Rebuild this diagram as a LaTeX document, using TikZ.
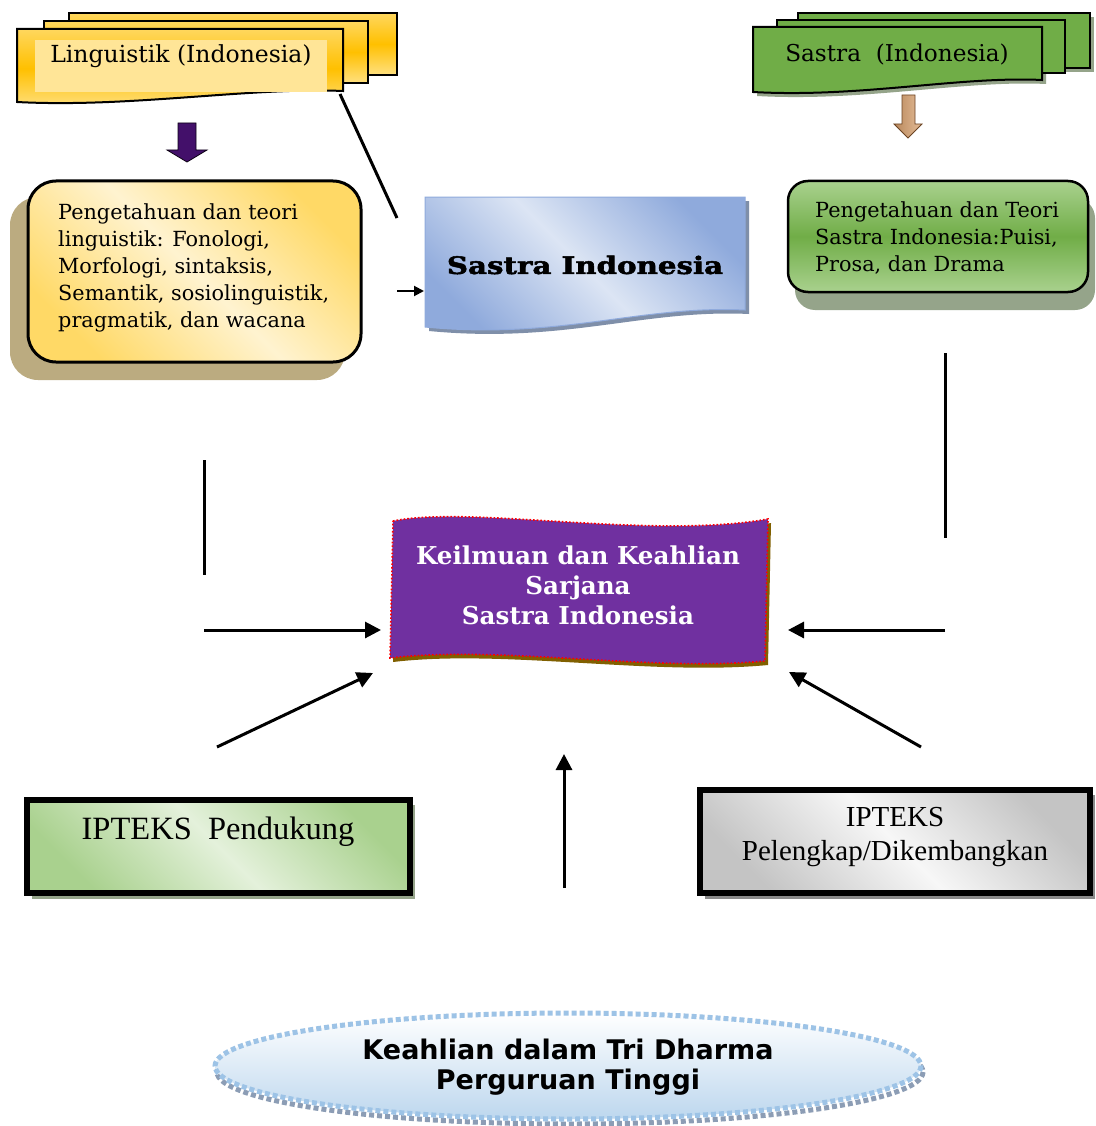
\documentclass[tikz,border=0pt]{standalone}
\usepackage{fontspec}
\usepackage{graphicx}
\setmainfont{DejaVu Serif}
\newfontfamily\garafont{Liberation Serif}
\newfontfamily\heavyfont{DejaVu Serif}[BoldFeatures={FakeBold=2}]
\newfontfamily\decofont{DejaVu Sans}
\usetikzlibrary{arrows.meta}

\definecolor{goldA}{HTML}{FFD75E}
\definecolor{goldB}{HTML}{FFC000}
\definecolor{goldC}{HTML}{FFE080}
\definecolor{goldPale}{HTML}{FFE597}
\definecolor{creamC}{HTML}{FFF3D0}
\definecolor{creamY}{HTML}{FFD966}
\definecolor{khaki}{HTML}{BBAB80}
\definecolor{leaf}{HTML}{70AD47}
\definecolor{leafL}{HTML}{A9D18E}
\definecolor{leafPale}{HTML}{E4F1DB}
\definecolor{leafShadow}{HTML}{95A48A}
\definecolor{skyL}{HTML}{DCE5F4}
\definecolor{skyD}{HTML}{8FAADC}
\definecolor{skyShadow}{HTML}{7F8FA9}
\definecolor{plum}{HTML}{7030A0}
\definecolor{plumDark}{HTML}{43106A}
\definecolor{olive}{HTML}{806000}
\definecolor{tan}{HTML}{D9A06C}
\definecolor{tanD}{HTML}{6B4424}
\definecolor{greyL}{HTML}{F7F7F7}
\definecolor{greyD}{HTML}{C4C4C4}
\definecolor{greyShadow}{HTML}{8A8A8A}
\definecolor{iceL}{HTML}{FFFFFF}
\definecolor{iceD}{HTML}{BDD7EE}
\definecolor{iceLine}{HTML}{9DC3E6}
\definecolor{iceShadow}{HTML}{8C9DB5}

\tikzset{
  conn/.style={line width=3pt, black},
  arr/.style={conn, -{Triangle[length=16pt,width=16pt]}},
  smallarr/.style={line width=2pt, black, -{Triangle[length=10pt,width=10pt]}},
  outline/.style={draw=black, line width=2pt},
  thickframe/.style={draw=black, line width=6pt},
  headtxt/.style={inner sep=0pt, font=\fontsize{23.5}{27}\selectfont},
  boxtxt/.style={inner sep=0pt, font=\fontsize{20.8}{27}\selectfont},
  goldshade/.style={top color=goldA, bottom color=goldC, middle color=goldB},
}

\begin{document}
\begin{tikzpicture}[x=1pt,y=-1pt]
\fill[white] (0,0) rectangle (1095,1126);
\useasboundingbox (0,0) rectangle (1095,1126);

% ---------- Linguistik stack ----------
\shade[goldshade, outline] (69,13) rectangle (397,75);
\shade[goldshade, outline] (44,21) rectangle (368,83);
\shade[goldshade, outline]
  (17,29) -- (343,29) -- (343,91)
  .. controls (250,87) and (130,108) .. (17,102) -- cycle;
\fill[goldPale] (35,40) rectangle (327,92);
\node[headtxt] (ling) at (181,56) {Linguistik (Indonesia)};

% down arrow under Linguistik
\filldraw[fill=plumDark, draw=black!80!plumDark, line width=0.8pt]
  (178,123) -- (196,123) -- (196,150) -- (207,150) -- (187,162)
  -- (167,150) -- (178,150) -- cycle;

% ---------- Sastra stack ----------
\begin{scope}[shift={(4,4)}]
  \fill[leafShadow] (798,13) rectangle (1090,68);
  \fill[leafShadow] (753,27) -- (1042,27) -- (1042,80)
    .. controls (960,76) and (860,98) .. (753,92) -- cycle;
\end{scope}
\filldraw[fill=leaf, outline] (798,13) rectangle (1090,68);
\filldraw[fill=leaf, outline] (777,20) rectangle (1065,73);
\filldraw[fill=leaf, outline] (753,27) -- (1042,27) -- (1042,80)
  .. controls (960,76) and (860,98) .. (753,92) -- cycle;
\node[headtxt, font=\fontsize{23.2}{27}\selectfont] (sastra) at (897,54)
  {Sastra\ \ (Indonesia)};

% down arrow under Sastra
\shade[left color=tan!85!black, right color=tan!70!white, draw=tanD, line width=0.8pt]
  (902,95) -- (915,95) -- (915,124) -- (922,124) -- (908,138)
  -- (894,124) -- (902,124) -- cycle;

% ---------- left knowledge box ----------
\fill[khaki, rounded corners=28] (10,197) rectangle (345,380);
\shade[top color=creamY, bottom color=creamY, middle color=creamC,
       shading angle=-45, rounded corners=28, draw=black, line width=3pt]
  (28,181) rectangle (361,362);
\node[boxtxt, anchor=west, align=left] (lingbox) at (58,268)
  {Pengetahuan dan teori\\linguistik: Fonologi,\\Morfologi, sintaksis,\\Semantik, sosiolinguistik,\\pragmatik, dan wacana};

% ---------- right knowledge box ----------
\fill[leafShadow, rounded corners=20] (795,198) rectangle (1095,310);
\shade[top color=leafL, bottom color=leafL, middle color=leaf,
       rounded corners=20, draw=black, line width=2.5pt]
  (788,181) rectangle (1088,292);
\node[boxtxt, anchor=west, align=left] (sastrabox) at (815,238)
  {Pengetahuan dan Teori\\Sastra Indonesia:Puisi,\\Prosa, dan Drama};

% ---------- Sastra Indonesia document ----------
\fill[skyShadow] (429,201) -- (749,201) -- (749,314)
  .. controls (644,309) and (564,344) .. (429,331) -- cycle;
\shade[top color=skyD, bottom color=skyD, middle color=skyL, shading angle=-45,
       draw=skyD, line width=1pt]
  (425,197) -- (745,197) -- (745,310)
  .. controls (640,305) and (560,340) .. (425,327) -- cycle;
\node[inner sep=0pt] (sasind) at (585,265)
  {\scalebox{1.22}[1]{\fontsize{24}{28}\heavyfont\bfseries Sastra Indonesia}};

% ---------- central banner ----------
\fill[olive] (396,525) .. controls (473,509) and (653,544) .. (771,523)
  -- (768,665) .. controls (653,676) and (503,649) .. (393,662) -- cycle;
\filldraw[fill=plum, draw=red, line width=1.6pt, dotted]
  (393,521) .. controls (470,505) and (650,540) .. (768,519)
  -- (765,661) .. controls (650,672) and (500,645) .. (390,658) -- cycle;
\node[inner sep=0pt, align=center, text=white,
      font=\fontsize{24.6}{30}\selectfont\bfseries] (core) at (578,585)
  {Keilmuan dan Keahlian\\Sarjana\\Sastra Indonesia};

% ---------- IPTEKS boxes ----------
\fill[leafShadow] (32,805) rectangle (415,899);
\shade[top color=leafL, bottom color=leafL, middle color=leafPale,
       shading angle=-45, thickframe]
  (27,800) rectangle (410,893);
\node[inner sep=0pt, font=\garafont\fontsize{32.5}{34}\selectfont] (pendukung)
  at (218,832) {IPTEKS\ \ Pendukung};

\fill[greyShadow] (705,795) rectangle (1095,899);
\shade[top color=greyD, bottom color=greyD, middle color=greyL,
       shading angle=-45, thickframe]
  (700,790) rectangle (1090,893);
\node[inner sep=0pt, align=center, font=\garafont\fontsize{29}{34}\selectfont]
  (pelengkap) at (895,837) {IPTEKS\\Pelengkap/Dikembangkan};

% ---------- bottom ellipse ----------
\draw[iceShadow, line width=5pt, dash pattern=on 5pt off 3pt]
  (570,1072) ellipse [x radius=353, y radius=52];
\shade[top color=iceL, bottom color=iceD, draw=iceLine, line width=5pt,
       dash pattern=on 5pt off 3pt]
  (568,1066) ellipse [x radius=353, y radius=53];
\node[inner sep=0pt, align=center,
      font=\decofont\fontsize{27}{30}\selectfont\bfseries] (tridharma)
  at (568,1067) {Keahlian dalam Tri Dharma\\Perguruan Tinggi};

% ---------- connectors ----------
\coordinate (lingTail) at (340,94);
\coordinate (sasTop) at (397,218);
\coordinate (smallStart) at (397,291);
\coordinate (smallEnd) at (424,291);
\coordinate (leftVtop) at (204,460);
\coordinate (leftVbot) at (204,575);
\coordinate (rightVtop) at (945,353);
\coordinate (rightVbot) at (945,538);
\coordinate (leftHstart) at (204,630);
\coordinate (leftHend) at (381,630);
\coordinate (rightHstart) at (945,630);
\coordinate (rightHend) at (788,630);
\coordinate (ldStart) at (217,747);
\coordinate (ldEnd) at (373,673);
\coordinate (rdStart) at (921,747);
\coordinate (rdEnd) at (789,672);
\coordinate (upStart) at (564,888);
\coordinate (upEnd) at (564,754);

\draw[conn] (lingTail) -- (sasTop);
\draw[smallarr] (smallStart) -- (smallEnd);
\draw[conn] (leftVtop) -- (leftVbot);
\draw[conn] (rightVtop) -- (rightVbot);
\draw[arr] (leftHstart) -- (leftHend);
\draw[arr] (rightHstart) -- (rightHend);
\draw[arr] (ldStart) -- (ldEnd);
\draw[arr] (rdStart) -- (rdEnd);
\draw[arr] (upStart) -- (upEnd);
\end{tikzpicture}
\end{document}
